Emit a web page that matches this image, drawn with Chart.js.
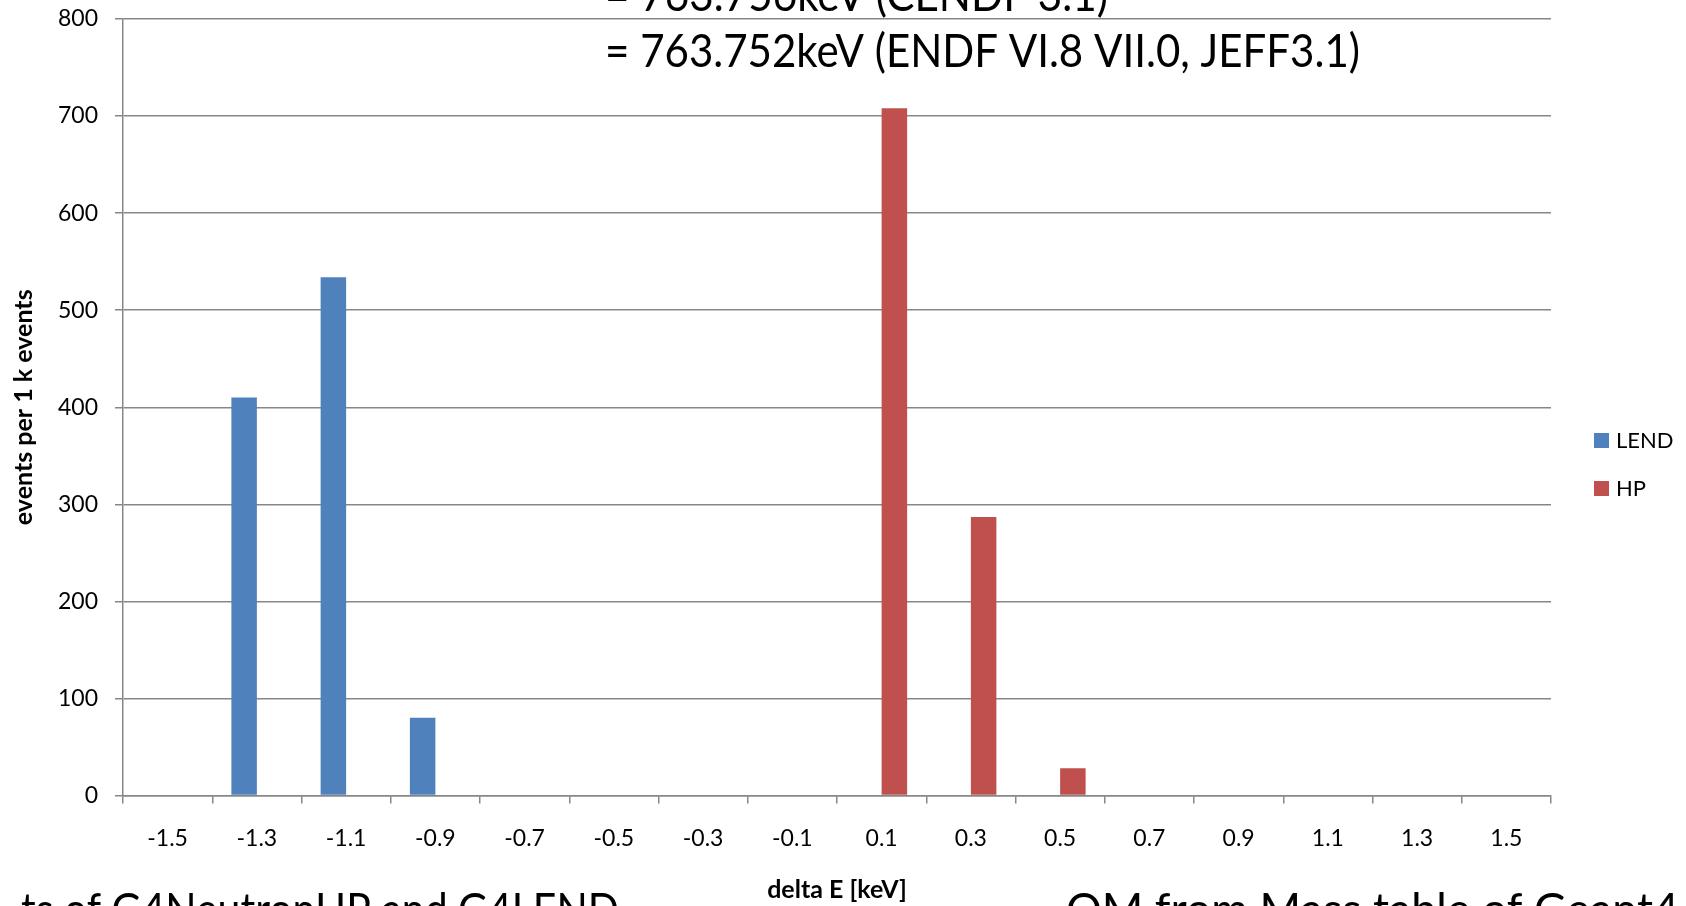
<!DOCTYPE html>
<html>
<head>
<meta charset="utf-8">
<title>delta E</title>
<script src="https://cdn.jsdelivr.net/npm/chart.js@4.4.0/dist/chart.umd.min.js"></script>
<style>
    html, body { margin: 0; padding: 0; background: #fff; }
    #wrap { position: relative; width: 1686px; height: 906px; overflow: hidden; }
</style>
</head>
<body>
<div id="wrap"><canvas id="deltaChart" width="1686" height="906"></canvas></div>
<script>
// --- Data ---
const energyBins = ['-1.5', '-1.3', '-1.1', '-0.9', '-0.7', '-0.5', '-0.3', '-0.1',
                    '0.1', '0.3', '0.5', '0.7', '0.9', '1.1', '1.3', '1.5'];
const lendEvents = [0, 410, 534, 80, 0, 0, 0, 0, 0, 0, 0, 0, 0, 0, 0, 0];
const hpEvents   = [0, 0, 0, 0, 0, 0, 0, 0, 708, 287, 28, 0, 0, 0, 0, 0];
const yTicks = [0, 100, 200, 300, 400, 500, 600, 700, 800];
const seriesNames = ['LEND', 'HP'];
const seriesColors = ['#4F81BD', '#C0504D'];

const titleLines = ['= 763.756keV (CENDF 3.1)', '= 763.752keV (ENDF VI.8 VII.0, JEFF3.1)'];
const footerLeft = 'ts of G4NeutronHP and G4LEND';
const footerRight = 'QM from Mass table of Geant4';

const gridGray = '#878787';

Chart.defaults.font.family = 'Lato, "Open Sans", sans-serif';
Chart.defaults.color = '#000';

// squeeze text horizontally so it spans the given width
const drawFitted = (ctx, text, x, y, width) => {
    const w = ctx.measureText(text).width;
    ctx.save();
    ctx.translate(x, y);
    ctx.scale(width / w, 1);
    ctx.fillText(text, 0, 0);
    ctx.restore();
};

const overlayPlugin = {
    id: 'overlay',
    afterDraw: (chart) => {
        const ctx = chart.ctx;
        ctx.save();
        ctx.fillStyle = '#000';
        ctx.textAlign = 'left';
        ctx.textBaseline = 'alphabetic';
        ctx.font = '47px Lato, "Open Sans", sans-serif';

        // Title lines (first one is cut off by the top edge)
        drawFitted(ctx, titleLines[0], 605, 11, 503);
        drawFitted(ctx, titleLines[1], 605, 67, 755);

        // Footer fragments (cut off by the bottom edge)
        drawFitted(ctx, footerLeft, 21, 926, 598);
        drawFitted(ctx, footerRight, 1066, 926, 613);

        // Legend
        ctx.font = '22px Lato, "Open Sans", sans-serif';
        ctx.textBaseline = 'middle';
        seriesNames.forEach((name, i) => {
            const y = 433 + i * 48;
            ctx.fillStyle = seriesColors[i];
            ctx.fillRect(1594, y, 15, 15);
            ctx.fillStyle = '#000';
            ctx.fillText(name, 1616, y + 8);
        });
        ctx.restore();
    }
};

const config = {
    type: 'bar',
    data: {
        labels: energyBins,
        datasets: [{
            label: seriesNames[0],
            data: lendEvents,
            backgroundColor: seriesColors[0],
            borderWidth: 0
        }, {
            label: seriesNames[1],
            data: hpEvents,
            backgroundColor: seriesColors[1],
            borderWidth: 0
        }]
    },
    options: {
        responsive: false,
        animation: false,
        categoryPercentage: 2 / 3.5, // Excel gap width 150%
        barPercentage: 1,
        layout: {
            padding: { top: 19, right: 135, bottom: 0, left: 0 }
        },
        plugins: {
            legend: { display: false },
            tooltip: { enabled: false }
        },
        scales: {
            x: {
                afterFit: (scale) => { scale.height = 110.5; },
                grid: {
                    display: true,
                    drawOnChartArea: false,
                    drawTicks: true,
                    tickLength: 8,
                    color: gridGray,
                    lineWidth: 1.5
                },
                border: { color: gridGray, width: 1.5 },
                ticks: {
                    font: { size: 23 },
                    padding: 21,
                    maxRotation: 0
                },
                title: {
                    display: true,
                    text: 'delta E [keV]',
                    font: { size: 25, weight: 'bold' },
                    padding: { top: 0, bottom: 1 }
                }
            },
            y: {
                min: yTicks[0],
                max: yTicks[yTicks.length - 1],
                afterFit: (scale) => {
                    scale.width = 123;
                    // don't let the tick labels push the plot area down
                    scale.paddingTop = 0;
                    scale.paddingBottom = 0;
                },
                grid: {
                    color: gridGray,
                    lineWidth: 1.5,
                    drawTicks: true,
                    tickLength: 8
                },
                border: { color: gridGray, width: 1.5 },
                ticks: {
                    stepSize: yTicks[1] - yTicks[0],
                    font: { size: 23 },
                    padding: 17
                },
                title: {
                    display: true,
                    text: 'events per 1 k events',
                    font: { size: 25, weight: 'bold' },
                    padding: { top: 9, bottom: 0 }
                }
            }
        }
    },
    plugins: [overlayPlugin]
};

new Chart(document.getElementById('deltaChart'), config);
</script>
</body>
</html>
